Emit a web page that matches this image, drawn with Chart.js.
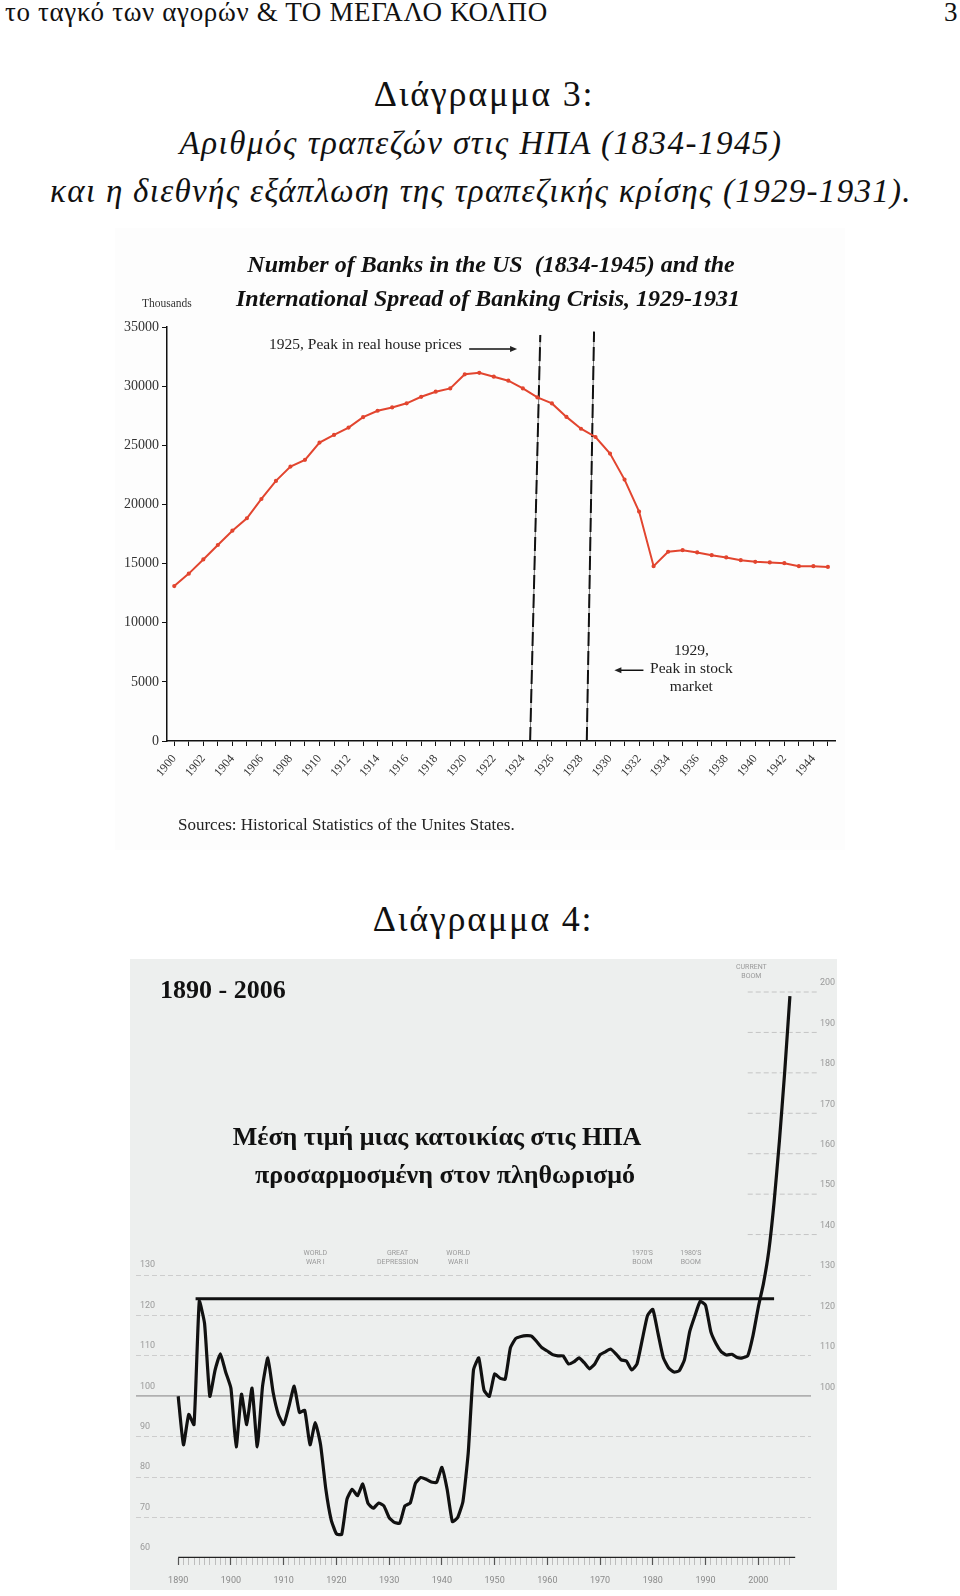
<!DOCTYPE html>
<html>
<head>
<meta charset="utf-8">
<script src="https://cdn.jsdelivr.net/npm/chart.js@4.4.0/dist/chart.umd.min.js"></script>
<style>
body { margin:0; background:#fff; width:960px; height:1596px; position:relative; overflow:hidden; font-family:"Liberation Serif", serif; color:#111; }
.t { position:absolute; white-space:nowrap; line-height:1; }
.c { transform:translateX(-50%); }
.i { font-style:italic; }
#box1 { position:absolute; left:115px; top:228px; width:730px; height:622px; background:#fdfdfd; }
#box2 { position:absolute; left:130px; top:959px; width:707px; height:631px; background:#edefee; }
</style>
</head>
<body>
<div class="t" style="left:5px;top:-1px;font-size:27px;letter-spacing:0.65px">το ταγκό των αγορών &amp; ΤΟ ΜΕΓΑΛΟ ΚΟΛΠΟ</div>
<div class="t" style="left:944px;top:-1px;font-size:27px">3</div>
<div class="t c" style="left:484px;top:76px;font-size:36px;letter-spacing:1.8px">Διάγραμμα 3:</div>
<div class="t c i" style="left:481px;top:127px;font-size:33px;letter-spacing:1.5px">Αριθμός τραπεζών στις ΗΠΑ (1834-1945)</div>
<div class="t c i" style="left:481px;top:175px;font-size:33px;letter-spacing:1.3px">και η διεθνής εξάπλωση της τραπεζικής κρίσης (1929-1931).</div>

<div id="box1"><canvas id="banks" width="730" height="622"></canvas></div>
<div class="t c i" style="left:491px;top:252px;font-size:24px;font-weight:bold">Number of Banks in the US&nbsp; (1834-1945) and the</div>
<div class="t c i" style="left:488px;top:286px;font-size:24px;font-weight:bold">International Spread of Banking Crisis, 1929-1931</div>
<div class="t" style="left:142px;top:298px;font-size:11.5px;color:#333">Thousands</div>
<div class="t" style="left:178px;top:816px;font-size:17px;color:#222">Sources: Historical Statistics of the Unites States.</div>

<div class="t c" style="left:483px;top:901px;font-size:36px;letter-spacing:1.8px">Διάγραμμα 4:</div>

<div id="box2"><canvas id="prices" width="707" height="631"></canvas></div>
<div class="t" style="left:160px;top:977px;font-size:26px;font-weight:bold">1890 - 2006</div>
<div class="t c" style="left:437px;top:1124px;font-size:26px;font-weight:bold">Μέση τιμή μιας κατοικίας στις ΗΠΑ</div>
<div class="t c" style="left:445px;top:1162px;font-size:26px;font-weight:bold">προσαρμοσμένη στον πληθωρισμό</div>

<script>
// Διάγραμμα 3 - αριθμός τραπεζών
var bankYears = [1900,1901,1902,1903,1904,1905,1906,1907,1908,1909,
	1910,1911,1912,1913,1914,1915,1916,1917,1918,1919,
	1920,1921,1922,1923,1924,1925,1926,1927,1928,1929,
	1930,1931,1932,1933,1934,1935,1936,1937,1938,1939,
	1940,1941,1942,1943,1944,1945];
var banksCount = [13100,14150,15350,16570,17780,18830,20460,21990,23200,23770,
	25230,25880,26500,27380,27920,28200,28550,29100,29530,29810,
	31000,31130,30800,30460,29810,29050,28540,27400,26400,25700,
	24300,22100,19400,14780,16000,16130,15940,15710,15520,15290,
	15150,15100,15030,14780,14780,14720];
var bankTicks = [0,5000,10000,15000,20000,25000,30000,35000];

// the two vertical marker lines (bottom year, top year, top value)
var peakLines = [[1924.5, 1925.2, 34330], [1928.4, 1928.9, 34610]];

// Διάγραμμα 4 - τιμή κατοικίας
var priceYears = [1890,1891,1892,1893,1894,1895,1896,1897,1898,1899,
	1900,1901,1902,1903,1904,1905,1906,1907,1908,1909,
	1910,1911,1912,1913,1914,1915,1916,1917,1918,1919,
	1920,1921,1922,1923,1924,1925,1926,1927,1928,1929,
	1930,1931,1932,1933,1934,1935,1936,1937,1938,1939,
	1940,1941,1942,1943,1944,1945,1946,1947,1948,1949,
	1950,1951,1952,1953,1954,1955,1956,1957,1958,1959,
	1960,1961,1962,1963,1964,1965,1966,1967,1968,1969,
	1970,1971,1972,1973,1974,1975,1976,1977,1978,1979,
	1980,1981,1982,1983,1984,1985,1986,1987,1988,1989,
	1990,1991,1992,1993,1994,1995,1996,1997,1998,1999,
	2000,2001,2002,2003,2004,2005,2006];
var priceIndex = [100,88,95.5,93,123.5,118,100,106.5,110.5,106,
	102,87.5,100.5,93,102,87.5,102.5,109.5,101,95.5,
	93,97.5,102.5,96,96.5,88,93.5,88,77,69.5,
	66,65.8,74.5,77,75.4,78.3,73.5,72.3,73.6,72.9,
	70,68.8,68.6,72.9,73.6,78.5,79.9,79.5,78.8,78.7,
	82.4,77,69,70,74,86,106.5,109.5,101.5,100,
	105.5,104.5,104.2,112,114.3,114.8,115,114.9,113.5,112,
	111.2,110.3,110,110,108,108.5,109.5,108.3,106.8,108,
	110.3,111,111.7,110.5,109,108.7,106.5,108,114,120,
	121.5,115.5,109.5,107,106,106.3,109,116,120,123.5,
	122.5,116,113,111,110.2,110.4,109.6,109.5,110,115,
	122,128,136,148,163,180,199];
var priceTicks = [60,70,80,90,100,110,120,130,140,150,160,170,180,190,200];
var boomLevel = [1893.3, 2003, 124.1];
var axisSpan = [1890, 2007];

var notes1 = [
	{lines:['1925, Peak in real house prices'], year:1919.8, value:33500, align:'right'},
	{lines:['1929,','Peak in stock','market'], year:1935.6, value:7600, align:'center'}
];
var arrows1 = [[1920.3, 1923.6, 33150], [1932.3, 1930.3, 5980]];

var notes2 = [
	{lines:['WORLD','WAR I'], year:1916, value:134.3},
	{lines:['GREAT','DEPRESSION'], year:1931.6, value:134.3},
	{lines:['WORLD','WAR II'], year:1943.1, value:134.3},
	{lines:["1970'S",'BOOM'], year:1978, value:134.3},
	{lines:["1980'S",'BOOM'], year:1987.2, value:134.3},
	{lines:['CURRENT','BOOM'], year:1998.7, value:205}
];

Chart.defaults.font.family = 'Liberation Serif';

function pts(xs, ys){
	var out = [];
	for (var i = 0; i < xs.length; i++) out.push({x: xs[i], y: ys[i]});
	return out;
}

function drawArrow(ctx, x1, y1, x2, y2){
	var dir = x2 > x1 ? 1 : -1;
	ctx.beginPath();
	ctx.moveTo(x1, y1);
	ctx.lineTo(x2 - dir*5, y2);
	ctx.stroke();
	ctx.beginPath();
	ctx.moveTo(x2, y2);
	ctx.lineTo(x2 - dir*7, y2 - 3);
	ctx.lineTo(x2 - dir*7, y2 + 3);
	ctx.closePath();
	ctx.fill();
}

var notesPlugin1 = {
	id: 'notes1',
	afterDatasetsDraw: function(chart){
		var ctx = chart.ctx, xs = chart.scales.x, ys = chart.scales.y;
		ctx.save();
		ctx.fillStyle = '#222';
		ctx.strokeStyle = '#111';
		ctx.lineWidth = 1.5;
		ctx.font = '15.5px "Liberation Serif"';
		ctx.textBaseline = 'middle';
		notes1.forEach(function(n){
			ctx.textAlign = n.align;
			var x = xs.getPixelForValue(n.year), y = ys.getPixelForValue(n.value);
			n.lines.forEach(function(l, k){ ctx.fillText(l, x, y + k*18); });
		});
		arrows1.forEach(function(a){
			var y = ys.getPixelForValue(a[2]);
			drawArrow(ctx, xs.getPixelForValue(a[0]), y, xs.getPixelForValue(a[1]), y);
		});
		ctx.restore();
	}
};

var peakDs = [];
peakLines.forEach(function(p){
	var d = [{x:p[0], y:0}, {x:p[1], y:p[2]}];
	peakDs.push({data:d, borderColor:'#111', borderWidth:2, borderDash:[14,5], pointRadius:0});
	peakDs.push({data:d, borderColor:'#777', borderWidth:1, pointRadius:0});
});

new Chart(document.getElementById('banks'), {
	type: 'line',
	data: {
		datasets: [{
			data: pts(bankYears, banksCount),
			borderColor: '#e2452f',
			backgroundColor: '#e2452f',
			borderWidth: 2,
			pointRadius: 1.1,
			tension: 0
		}].concat(peakDs)
	},
	options: {
		responsive: false,
		animation: false,
		layout: {padding: {top: 99, right: 5}},
		plugins: {legend: {display: false}, tooltip: {enabled: false}},
		scales: {
			x: {
				type: 'linear', min: 1899.5, max: 1945.5,
				afterBuildTicks: function(s){ s.ticks = bankYears.map(function(y){ return {value: y}; }); },
				afterFit: function(s){ s.height = 109; },
				ticks: {
					autoSkip: false, minRotation: 50, maxRotation: 50, padding: 6,
					color: '#333', font: {size: 12},
					callback: function(v){ return v % 2 === 0 ? String(v) : ''; }
				},
				grid: {drawOnChartArea: false, tickLength: 5, tickColor: '#111'},
				border: {color: '#111', width: 1.5}
			},
			y: {
				min: 0, max: 35000,
				afterBuildTicks: function(s){ s.ticks = bankTicks.map(function(v){ return {value: v}; }); },
				afterFit: function(s){ s.width = 52; },
				ticks: {color: '#333', font: {size: 14}, padding: 3, callback: function(v){ return String(v); }},
				grid: {drawOnChartArea: false, tickLength: 5, tickColor: '#111'},
				border: {color: '#111', width: 1.5}
			}
		}
	},
	plugins: [notesPlugin1]
});

var notesPlugin2 = {
	id: 'notes2',
	beforeDatasetsDraw: function(chart){
		// short dashed guide lines for the upper values, on the right side only
		var ctx = chart.ctx, xs = chart.scales.x, ys = chart.scales.y, a = chart.chartArea;
		ctx.save();
		ctx.strokeStyle = '#c4c4c4';
		ctx.lineWidth = 1;
		ctx.setLineDash([5, 3]);
		priceTicks.forEach(function(v){
			if (v <= 130) return;
			var y = ys.getPixelForValue(v);
			ctx.beginPath();
			ctx.moveTo(xs.getPixelForValue(1998), y);
			ctx.lineTo(a.right + 6, y);
			ctx.stroke();
		});
		ctx.restore();
	},
	afterDatasetsDraw: function(chart){
		var ctx = chart.ctx, xs = chart.scales.x, ys = chart.scales.y;
		ctx.save();
		ctx.fillStyle = '#9a9a9a';
		ctx.font = '7px Roboto';
		ctx.textAlign = 'center';
		ctx.textBaseline = 'middle';
		notes2.forEach(function(n){
			var x = xs.getPixelForValue(n.year), y = ys.getPixelForValue(n.value);
			ctx.fillText(n.lines[0], x, y - 4.5);
			ctx.fillText(n.lines[1], x, y + 4.5);
		});
		ctx.restore();
	}
};

new Chart(document.getElementById('prices'), {
	type: 'line',
	data: {
		datasets: [
			{data: pts(priceYears, priceIndex), borderColor: '#111', borderWidth: 3.2, pointRadius: 0, tension: 0.15},
			{data: [{x: boomLevel[0], y: boomLevel[2]}, {x: boomLevel[1], y: boomLevel[2]}], borderColor: '#111', borderWidth: 3, pointRadius: 0},
			{data: [{x: axisSpan[0], y: 60}, {x: axisSpan[1], y: 60}], borderColor: '#222', borderWidth: 2.5, pointRadius: 0}
		]
	},
	options: {
		responsive: false,
		animation: false,
		layout: {padding: {top: 33, left: 6}},
		plugins: {legend: {display: false}, tooltip: {enabled: false}},
		scales: {
			x: {
				type: 'linear', min: 1882, max: 2010,
				afterBuildTicks: function(s){ s.ticks = priceYears.map(function(y){ return {value: y}; }); },
				afterFit: function(s){ s.height = 32; },
				ticks: {
					autoSkip: false, maxRotation: 0, padding: 10, color: '#8a8a8a',
					font: {family: 'Roboto', size: 9},
					callback: function(v){ return v % 10 === 0 ? String(v) : ''; }
				},
				grid: {
					drawOnChartArea: false, tickLength: 7,
					tickColor: function(c){ return c.tick && c.tick.value % 10 === 0 ? '#555' : '#b0b0b0'; },
					tickWidth: function(c){ return c.tick && c.tick.value % 10 === 0 ? 1.2 : 0.8; }
				},
				border: {display: false}
			},
			y: {
				position: 'left', min: 60, max: 200,
				afterBuildTicks: function(s){ s.ticks = priceTicks.map(function(v){ return {value: v}; }); },
				afterFit: function(s){ s.width = 0; },
				ticks: {
					mirror: true, padding: 4, labelOffset: -10, color: '#9a9a9a',
					font: {family: 'Roboto', size: 9},
					callback: function(v){ return v <= 130 ? String(v) : ''; }
				},
				grid: {
					drawTicks: false,
					color: function(c){
						if (!c.tick || c.tick.value === 60 || c.tick.value > 130) return 'rgba(0,0,0,0)';
						return c.tick.value === 100 ? '#b0b0b0' : '#cdcdcd';
					},
					lineWidth: function(c){ return c.tick && c.tick.value === 100 ? 1.8 : 1; }
				},
				border: {display: false, dash: function(c){ return c.tick && c.tick.value === 100 ? [] : [5, 3]; }}
			},
			y2: {
				position: 'right', min: 60, max: 200,
				afterBuildTicks: function(s){ s.ticks = priceTicks.map(function(v){ return {value: v}; }); },
				afterFit: function(s){ s.width = 26; },
				ticks: {
					padding: 1, labelOffset: -9, color: '#9a9a9a',
					font: {family: 'Roboto', size: 9},
					callback: function(v){ return v >= 100 ? String(v) : ''; }
				},
				grid: {display: false},
				border: {display: false}
			}
		}
	},
	plugins: [notesPlugin2]
});
</script>
</body>
</html>
